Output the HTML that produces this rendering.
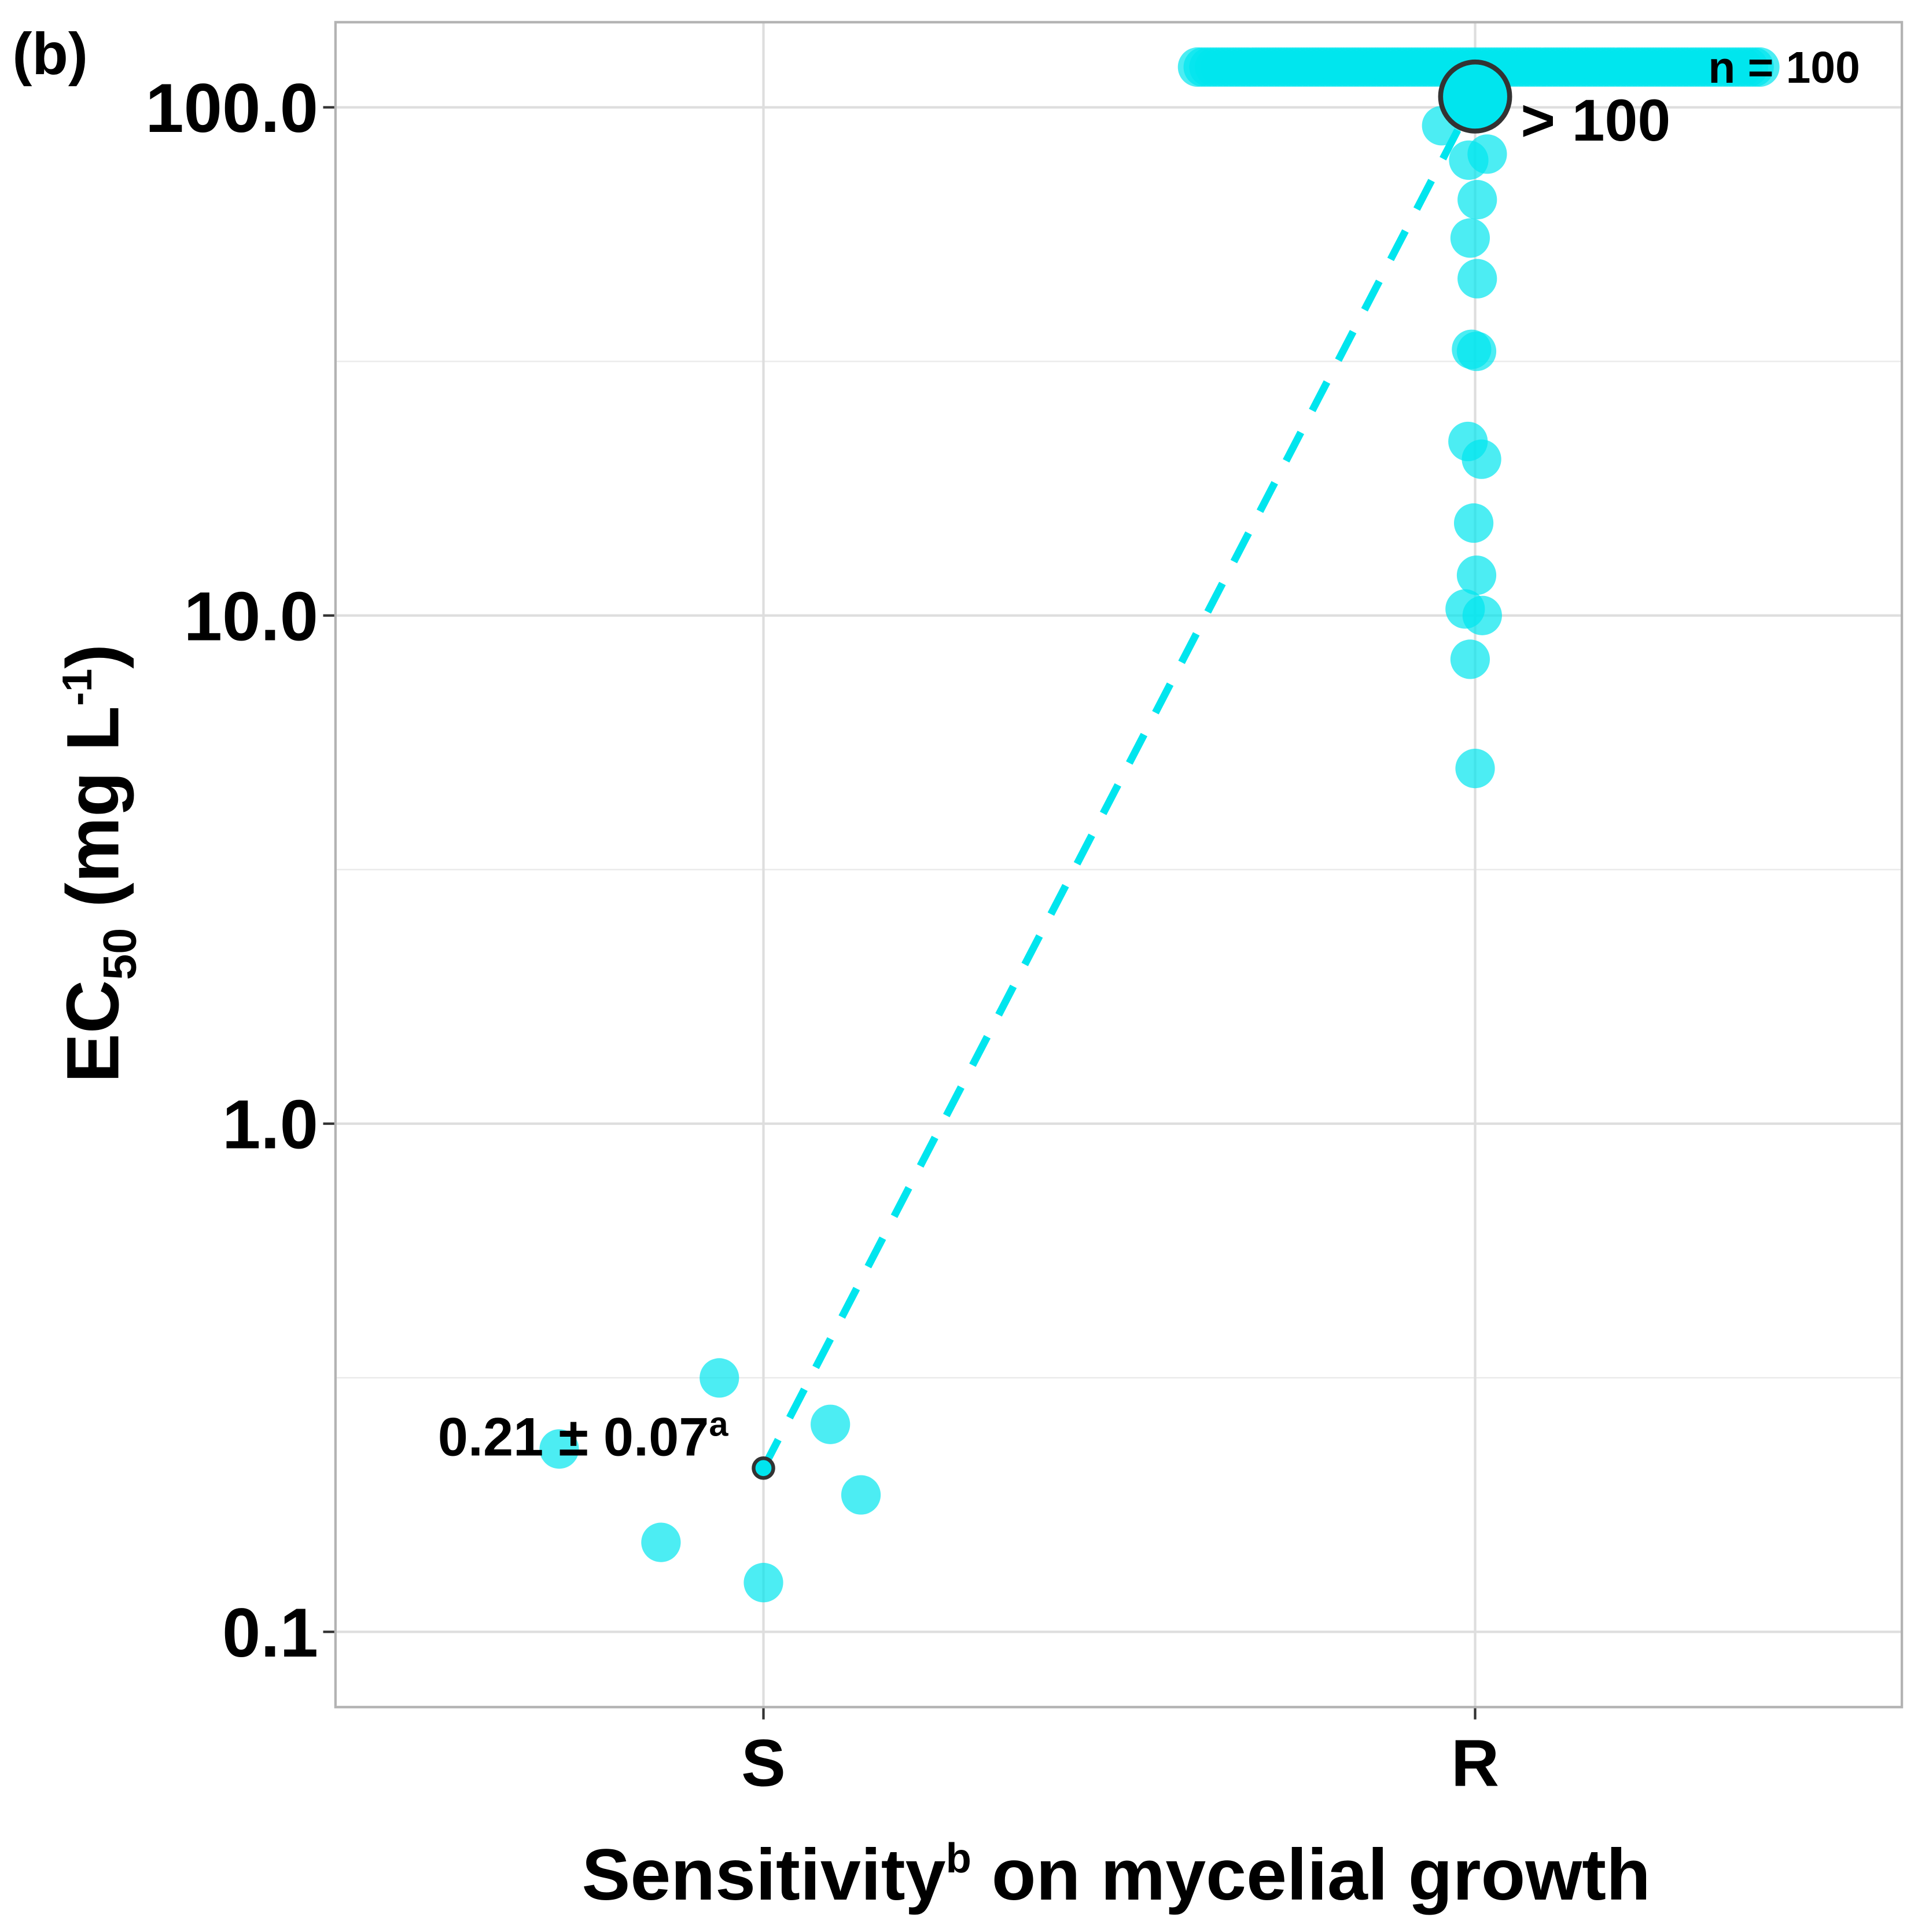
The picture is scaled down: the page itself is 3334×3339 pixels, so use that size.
<!DOCTYPE html>
<html><head><meta charset="utf-8"><style>
html,body{margin:0;padding:0;background:#fff;}
svg text{font-family:"Liberation Sans",sans-serif;font-weight:bold;fill:#000;}
</style></head><body>
<svg id="chart" width="3334" height="3334" viewBox="0 0 1564 1564" xmlns="http://www.w3.org/2000/svg">
<rect x="0" y="0" width="1564" height="1564" fill="#fff"/>
<g id="grid"></g>
<g id="marks"></g>
<rect x="272" y="18" width="1270" height="1366" fill="none" stroke="#b3b3b3" stroke-width="2"/>
<g id="labels"></g>
<text x="10" y="60" font-size="48">(b)</text>
<text x="1385" y="67" font-size="36">n = 100</text>
<text x="1233" y="114" font-size="48">&gt; 100</text>
<text x="355" y="1180" font-size="44">0.21 ± 0.07<tspan font-size="28" dy="-16">a</tspan></text>
<text transform="translate(96,700) rotate(-90)" text-anchor="middle" font-size="60">EC<tspan font-size="38" dy="14">50</tspan><tspan dy="-14"> (mg L</tspan><tspan font-size="34" dy="-22">-1</tspan><tspan dy="22">)</tspan></text>
<text x="905" y="1540" text-anchor="middle" font-size="59">Sensitivity<tspan font-size="34" dy="-22">b</tspan><tspan dy="22"> on mycelial growth</tspan></text>
</svg>
<script>
const categories = ["S","R"];
const yTicks = [0.1,1,10,100];
const yTickLabels = ["0.1","1.0","10.0","100.0"];
const sValues = [0.229,0.15,0.316,0.125,0.256,0.186];
const sJitter = [-0.287,-0.144,-0.062,0,0.094,0.137];
const rValues = [92,78.7,80.9,65.8,55.3,46,33.4,33.1,22,20.3,15.2,12.0,10.3,10,8.2,5.0];
const rJitter = [-0.047,-0.009,0.017,0.003,-0.007,0.003,-0.005,0.002,-0.01,0.009,-0.002,0.002,-0.014,0.01,-0.007,0];
const censoredValue = 120;
const censoredCount = 100;
const meanValues = [0.21,105];

const NS="http://www.w3.org/2000/svg";
function yS(v){return 1323-(Math.log10(v)+1)*412;}
function xS(i){return 619+i*577;}
function mk(tag,attrs,parent){const e=document.createElementNS(NS,tag);for(const k in attrs)e.setAttribute(k,attrs[k]);parent.appendChild(e);return e;}
const grid=document.getElementById('grid'),marks=document.getElementById('marks'),labels=document.getElementById('labels');
for(let d=-1;d<2;d++){const y=yS(Math.pow(10,d+0.5));const l=mk('line',{x1:272,x2:1542,y1:y,y2:y,stroke:'#ebebeb','stroke-width':1.2},grid);

}
yTicks.forEach((v,i)=>{const y=yS(v);
const l=mk('line',{x1:272,x2:1542,y1:y,y2:y,stroke:'#dedede','stroke-width':2},grid);


const t=mk('line',{x1:262,x2:272,y1:y,y2:y,stroke:'#333','stroke-width':2},grid);


const tx=mk('text',{x:258,y:y+20,'text-anchor':'end','font-size':56},labels);tx.textContent=yTickLabels[i];

});
categories.forEach((c,i)=>{const x=xS(i);
const l=mk('line',{x1:x,x2:x,y1:18,y2:1384,stroke:'#dedede','stroke-width':2},grid);


const t=mk('line',{x1:x,x2:x,y1:1384,y2:1394,stroke:'#333','stroke-width':2},grid);


const tx=mk('text',{x:x,y:1448,'text-anchor':'middle','font-size':54},labels);tx.textContent=c;

});
function pt(x,y,name){const c=mk('circle',{cx:x,cy:y,r:16,fill:'#00e5ee','fill-opacity':0.7},marks);

}
for(let k=0;k<censoredCount;k++){const off=-0.39+0.79*k/(censoredCount-1);pt(xS(1)+off*577,yS(censoredValue),'censored-point');}
sValues.forEach((v,i)=>pt(xS(0)+sJitter[i]*577,yS(v),'s-point'));
rValues.forEach((v,i)=>pt(xS(1)+rJitter[i]*577,yS(v),'r-point'));
const ml=mk('line',{x1:xS(0),y1:yS(meanValues[0]),x2:xS(1),y2:yS(meanValues[1]),stroke:'#00e5ee','stroke-width':6,'stroke-dasharray':'26 20'},marks);


const m0=mk('circle',{cx:xS(0),cy:yS(meanValues[0]),r:8,fill:'#00e5ee',stroke:'#333','stroke-width':3},marks);


const m1=mk('circle',{cx:xS(1),cy:yS(meanValues[1]),r:28,fill:'#00e5ee',stroke:'#333','stroke-width':4},marks);


</script>
</body></html>
